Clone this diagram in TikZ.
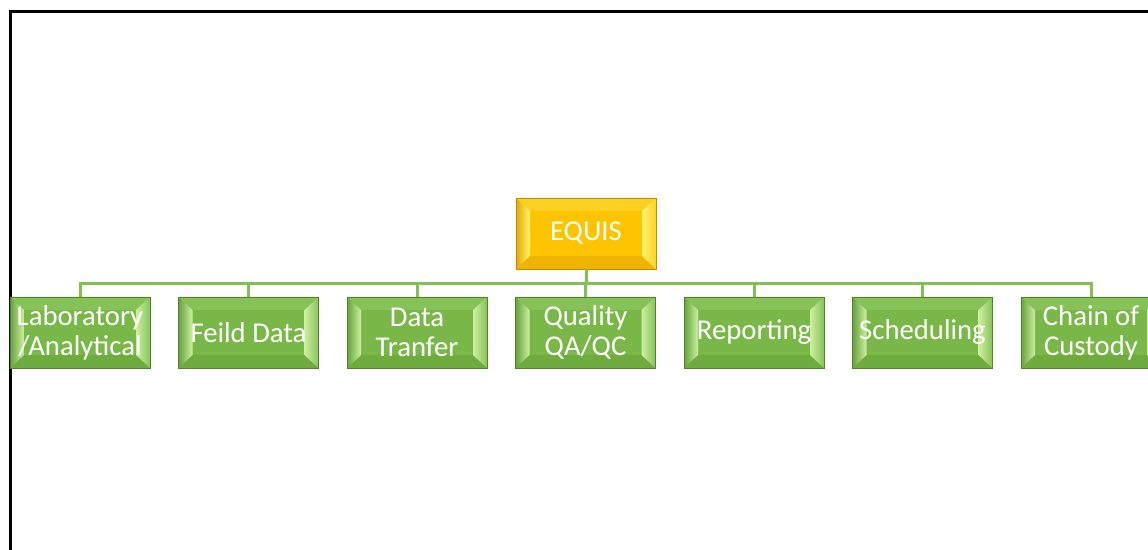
\documentclass[tikz,border=0pt]{standalone}
\usepackage{fontspec}
\setmainfont{Carlito}

% box colours
\definecolor{gface}{RGB}{121,184,72}
\definecolor{gtop}{RGB}{134,194,88}
\definecolor{gbot}{RGB}{110,172,62}
\definecolor{gedge}{RGB}{84,128,50}
\definecolor{gdark}{RGB}{102,162,60}
\definecolor{glight}{RGB}{205,240,160}
\definecolor{yface}{RGB}{255,196,0}
\definecolor{ytop}{RGB}{255,208,36}
\definecolor{ybot}{RGB}{240,180,0}
\definecolor{yedge}{RGB}{190,140,10}
\definecolor{ydark}{RGB}{228,168,0}
\definecolor{ylight}{RGB}{255,246,110}
\definecolor{linkgreen}{RGB}{128,192,84}

% bevel faces: top, bottom, left (out/in), right (in/out)
\newcommand{\bevelfaces}[6]{%
  \coordinate (bnw) at (path picture bounding box.north west);
  \coordinate (bne) at (path picture bounding box.north east);
  \coordinate (bsw) at (path picture bounding box.south west);
  \coordinate (bse) at (path picture bounding box.south east);
  \coordinate (inw) at ([shift={(4.2mm,-3.9mm)}]bnw);
  \coordinate (ine) at ([shift={(-4.2mm,-3.9mm)}]bne);
  \coordinate (isw) at ([shift={(4.2mm,3.9mm)}]bsw);
  \coordinate (ise) at ([shift={(-4.2mm,3.9mm)}]bse);
  \fill[#1] (bnw) -- (bne) -- (ine) -- (inw) -- cycle;
  \fill[#2] (bsw) -- (bse) -- (ise) -- (isw) -- cycle;
  \shade[left color=#3, right color=#4] (bnw) -- (inw) -- (isw) -- (bsw) -- cycle;
  \shade[left color=#5, right color=#6] (bne) -- (ine) -- (ise) -- (bse) -- cycle;
}

\tikzset{
  box/.style={minimum width=42mm, minimum height=21.3mm, inner sep=0pt,
    align=center, text=white, font=\fontsize{24.5}{25.5}\selectfont, line width=0.5pt},
  greenbox/.style={box, fill=gface, draw=gedge,
    path picture={\bevelfaces{gtop}{gbot}{gdark}{glight}{glight}{gtop}}},
  yellowbox/.style={box, fill=yface, draw=yedge,
    path picture={\bevelfaces{ytop}{ybot}{ydark}{ylight}{ylight}{ytop}}},
  link/.style={linkgreen, line width=0.9mm}
}

\begin{document}
\begin{tikzpicture}[x=0.3mm, y=-0.3mm]
\useasboundingbox (0,0) rectangle (1148,550);

% frame
\draw[line width=0.9mm] (10,560) -- (10,11.5) -- (1160,11.5);

% top box
\node[yellowbox] (equis) at (586,233.5) {EQUIS};

% second row
\foreach \name/\txt [count=\i from 0] in {lab/{Laboratory\\/Analytical}, field/{Feild Data},
    transfer/{Data\\Tranfer}, quality/{Quality\\QA/QC}, reporting/{Reporting},
    scheduling/{Scheduling}, custody/{Chain of\\Custody}} {
  \node[greenbox] (\name) at ({80+168.5*\i},332.5) {\txt};
  \draw[link] (equis.south) -- +(0,14.5) -| (\name.north);
}

\end{tikzpicture}
\end{document}
